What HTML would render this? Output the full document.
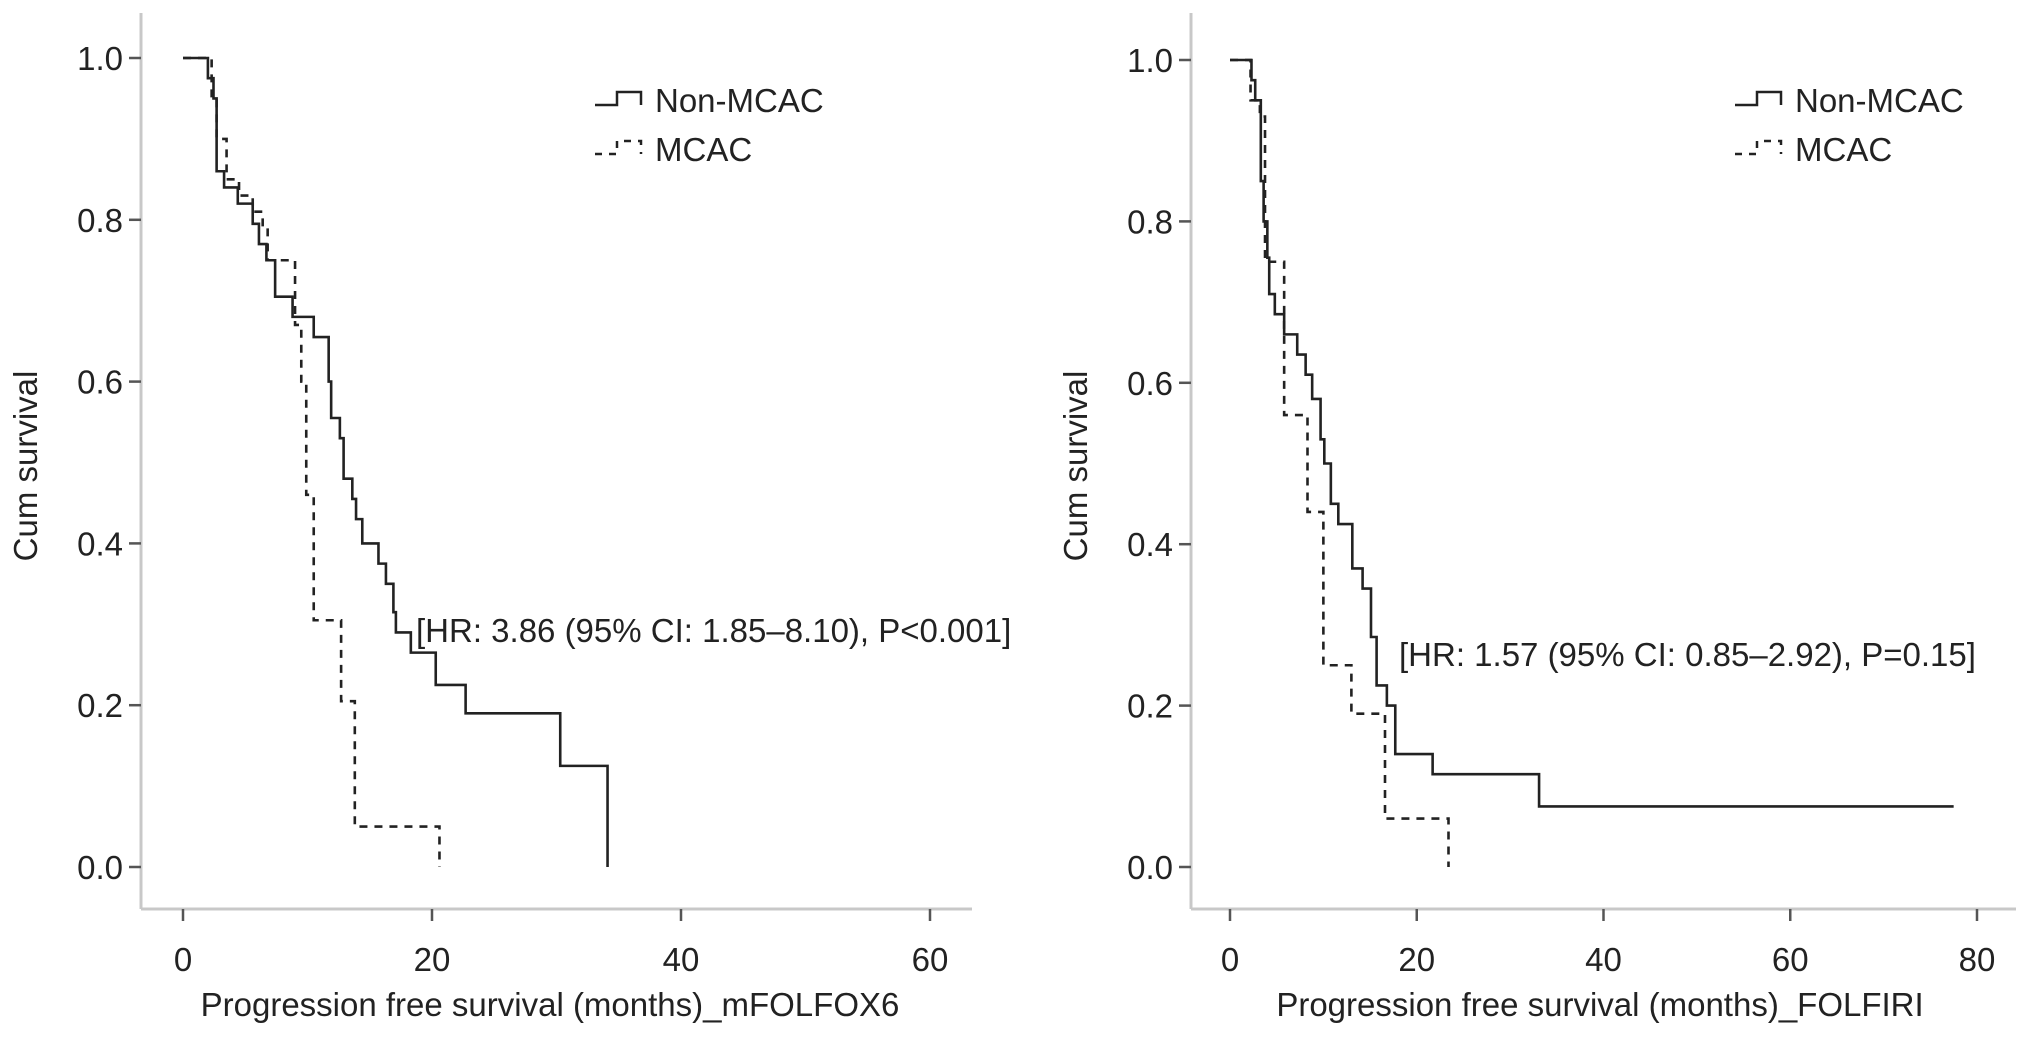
<!DOCTYPE html>
<html><head><meta charset="utf-8">
<style>
html,body{margin:0;padding:0;background:#fff;}
svg{display:block;}
text{font-family:"Liberation Sans",Arial,sans-serif;fill:#222;}
</style></head>
<body>
<svg id="chart" width="2032" height="1039" viewBox="0 0 2032 1039" xmlns="http://www.w3.org/2000/svg"></svg>
<script>
// ---- Left panel (mFOLFOX6) data ----
const leftNonTimes = [2.0,2.45,2.7,3.3,4.4,5.6,6.1,6.7,7.4,8.8,10.5,11.7,11.9,12.6,12.9,13.6,13.9,14.4,15.7,16.3,16.9,17.1,18.3,20.3,22.7,30.3,34.1];
const leftNonSurv  = [0.975,0.95,0.86,0.84,0.82,0.795,0.77,0.75,0.705,0.68,0.655,0.6,0.555,0.53,0.48,0.455,0.43,0.40,0.375,0.35,0.315,0.29,0.265,0.225,0.19,0.125,0.0];
const leftNonEnd = [34.1];
const leftMcTimes = [2.3,2.7,3.5,4.5,5.6,6.4,6.8,9.0,9.5,9.9,10.5,10.8,12.7,13.8,20.6];
const leftMcSurv  = [0.95,0.90,0.85,0.83,0.81,0.79,0.75,0.67,0.6,0.46,0.305,0.305,0.205,0.05,0.0];
const leftMcEnd = [20.6];
const leftXTicks = [0,20,40,60];
// ---- Right panel (FOLFIRI) data ----
const rightNonTimes = [2.3,2.7,3.3,3.6,4.0,4.2,4.8,4.9,5.8,7.2,8.1,8.8,9.7,10.1,10.8,11.6,13.1,14.2,15.1,15.7,16.8,17.7,21.7,33.1];
const rightNonSurv  = [0.975,0.95,0.85,0.8,0.755,0.71,0.685,0.685,0.66,0.635,0.61,0.58,0.53,0.5,0.45,0.425,0.37,0.345,0.285,0.225,0.2,0.14,0.115,0.075];
const rightNonEnd = [77.5];
const rightMcTimes = [2.2,3.2,3.75,5.8,8.3,10.0,13.0,16.6,23.4];
const rightMcSurv  = [0.95,0.93,0.75,0.56,0.44,0.25,0.19,0.06,0.0];
const rightMcEnd = [23.4];
const rightXTicks = [0,20,40,60,80];
const yTicks = [0.0,0.2,0.4,0.6,0.8,1.0];
const yTickLabels = ["0.0","0.2","0.4","0.6","0.8","1.0"];

const NS = "http://www.w3.org/2000/svg";
const svg = document.getElementById('chart');
function el(tag, attrs, parent){
  const e = document.createElementNS(NS, tag);
  for (const k in attrs) e.setAttribute(k, attrs[k]);
  (parent||svg).appendChild(e);
  return e;
}
const FS = 33;

function panel(cfg){
  const g = el('g', {});
  
  
  const xs = v => cfg.x0 + v / cfg.xMax * (cfg.x1 - cfg.x0);
  const ys = v => cfg.y0 - v * (cfg.y0 - cfg.y1);
  const ya = el('line', {x1:cfg.axX, y1:13, x2:cfg.axX, y2:cfg.axY, stroke:'#c8c8c8','stroke-width':3}, g);
  
  
  const xa = el('line', {x1:cfg.axX, y1:cfg.axY, x2:cfg.axEnd, y2:cfg.axY, stroke:'#c8c8c8','stroke-width':3}, g);
  
  
  yTicks.forEach((t,i)=>{
    const y = ys(t);
    const tk = el('line',{x1:cfg.axX-12,y1:y,x2:cfg.axX,y2:y,stroke:'#555','stroke-width':2.5},g);
    
    
    const tx = el('text',{x:cfg.axX-18,y:y+12,'text-anchor':'end','font-size':FS},g);
    tx.textContent = yTickLabels[i];
    
    
  });
  cfg.xTicks.forEach(t=>{
    const x = xs(t);
    const tk = el('line',{x1:x,y1:cfg.axY,x2:x,y2:cfg.axY+12,stroke:'#555','stroke-width':2.5},g);
    
    
    const tx = el('text',{x:x,y:971,'text-anchor':'middle','font-size':FS},g);
    tx.textContent = String(t);
    
    
  });
  const xt = el('text',{x:cfg.xTitleX,y:1016,'text-anchor':'middle','font-size':FS},g);
  xt.textContent = cfg.xTitle;
  
  
  const yt = el('text',{x:0,y:0,'text-anchor':'middle','font-size':FS,transform:`translate(${cfg.yTitleX},466) rotate(-90)`},g);
  yt.textContent = 'Cum survival';
  
  

  function curve(times, surv, end, dashed, name){
    let d = `M${xs(0)},${ys(1)}`;
    for (let i=0;i<times.length;i++){
      d += ` H${xs(times[i])} V${ys(surv[i])}`;
    }
    d += ` H${xs(end[0])}`;
    const p = el('path',{d:d,fill:'none',stroke:'#222','stroke-width':2.6,'stroke-dasharray':dashed?'8 7':'none'},g);
    
    
  }
  curve(cfg.mcT, cfg.mcS, cfg.mcE, true, 'mcac-curve');
  curve(cfg.nonT, cfg.nonS, cfg.nonE, false, 'non-mcac-curve');

  const lg = el('g',{},g);
  
  
  const lx = cfg.legX;
  const l1 = el('path',{d:`M${lx},105 H${lx+22} V92 H${lx+46} V105`,fill:'none',stroke:'#222','stroke-width':2.5},lg);
  
  
  const t1 = el('text',{x:lx+60,y:112,'font-size':FS},lg);
  t1.textContent='Non-MCAC';
  
  
  const l2 = el('path',{d:`M${lx},154 H${lx+22} V141 H${lx+46} V154`,fill:'none',stroke:'#222','stroke-width':2.5,'stroke-dasharray':'7 7'},lg);
  
  
  const t2 = el('text',{x:lx+60,y:161,'font-size':FS},lg);
  t2.textContent='MCAC';
  
  

  const hr = el('text',{x:cfg.hrX,y:cfg.hrY,'font-size':FS},g);
  hr.textContent = cfg.hr;
  
  
}

panel({name:'left-panel-mfolfox6', x0:183, x1:930, xMax:60, y0:867, y1:58, axX:141, axY:909, axEnd:972,
  xTicks:leftXTicks, xTitle:'Progression free survival (months)_mFOLFOX6', xTitleX:550, yTitleX:37,
  nonT:leftNonTimes, nonS:leftNonSurv, nonE:leftNonEnd, mcT:leftMcTimes, mcS:leftMcSurv, mcE:leftMcEnd,
  legX:595, hr:'[HR: 3.86 (95% CI: 1.85–8.10), P<0.001]', hrX:416, hrY:642});
panel({name:'right-panel-folfiri', x0:1230, x1:1977, xMax:80, y0:867, y1:60, axX:1191, axY:909, axEnd:2016,
  xTicks:rightXTicks, xTitle:'Progression free survival (months)_FOLFIRI', xTitleX:1600, yTitleX:1087,
  nonT:rightNonTimes, nonS:rightNonSurv, nonE:rightNonEnd, mcT:rightMcTimes, mcS:rightMcSurv, mcE:rightMcEnd,
  legX:1735, hr:'[HR: 1.57 (95% CI: 0.85–2.92), P=0.15]', hrX:1399, hrY:666});
</script>
</body></html>
